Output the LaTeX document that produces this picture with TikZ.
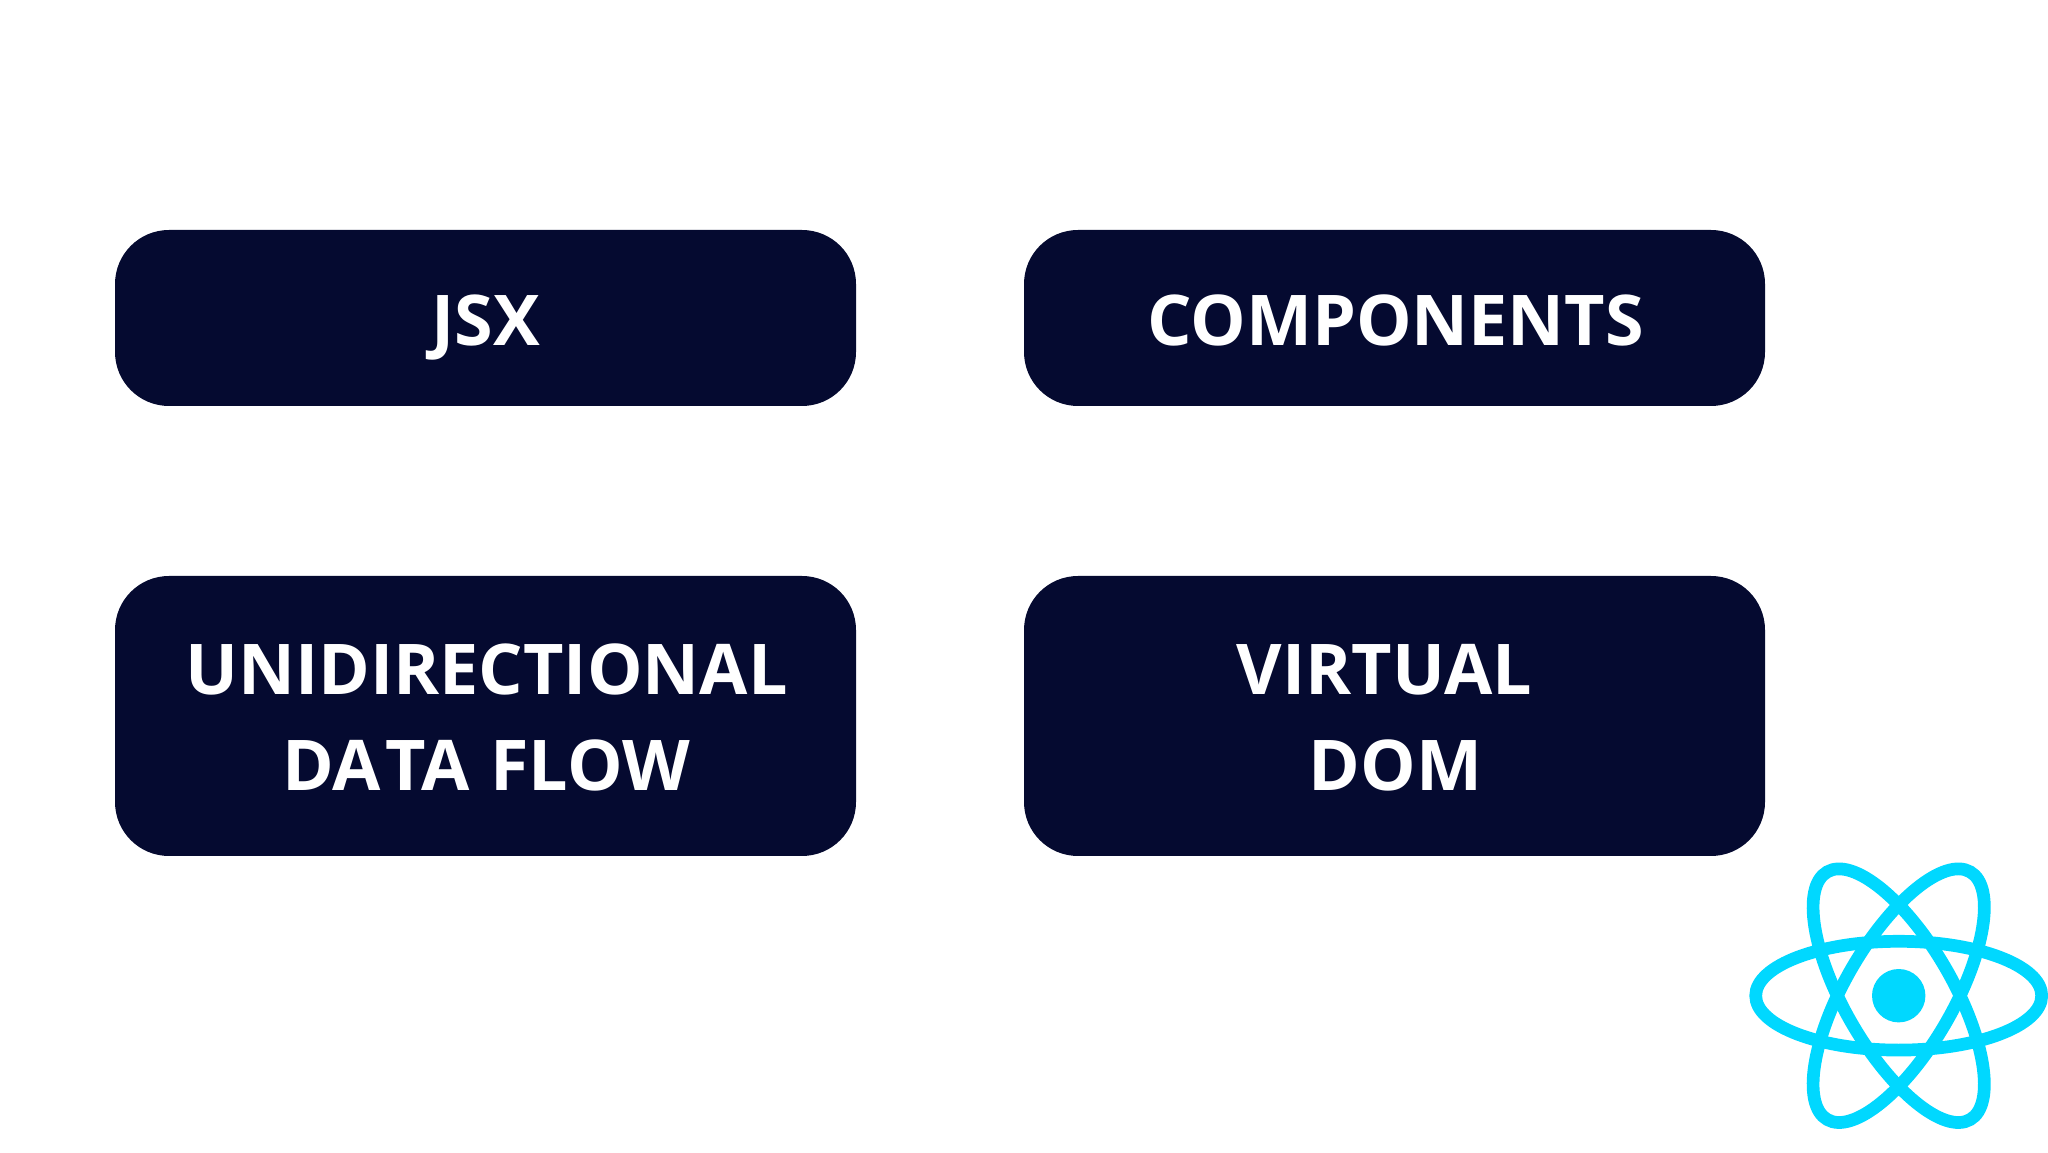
\documentclass[tikz,border=0pt]{standalone}
\usepackage{fontspec}
\setmainfont{Open Sans}[Kerning=Off]
\definecolor{boxnavy}{HTML}{050A30}
\definecolor{reactcyan}{HTML}{00D8FF}
\tikzset{
  x=1pt,y=1pt,
  cardbox/.style={fill=boxnavy,draw=none,rounded corners=54pt,inner sep=0pt,outer sep=0pt,minimum width=741pt},
  cardtext/.style={text=white,font=\fontsize{70}{96}\selectfont\bfseries,anchor=base,inner sep=0pt,align=center},
  orbit/.style={draw=reactcyan,line width=12.7pt,fill=none}
}
\begin{document}
\begin{tikzpicture}
\useasboundingbox (0,0) rectangle (2048,1152);
\fill[white] (0,0) rectangle (2048,1152);
% boxes
\node[cardbox,minimum height=176pt] (b1) at (485.5,834) {};
\node[cardbox,minimum height=176pt] (b2) at (1394.5,834) {};
\node[cardbox,minimum height=280pt] (b3) at (485.5,436) {};
\node[cardbox,minimum height=280pt] (b4) at (1394.5,436) {};
% labels
\node[cardtext] (t1) at (486,806) {JSX};
\node[cardtext] (t2) at (1395.5,806) {COMPONENTS};
\node[cardtext] (t3a) at (486.5,457) {UNIDIRECTIONAL};
\node[cardtext] (t3b) at (486,361) {DA\kern4.5pt TA\kern3pt\ FLOW};
\node[cardtext] (t4a) at (1384.5,457) {VIRTUAL};
\node[cardtext] (t4b) at (1395.5,361) {DOM};
% React logo
\coordinate (c) at (1898.7,156.3);
\draw[orbit] (c) ellipse [x radius=143,y radius=54.4];
\draw[orbit,rotate around={60:(c)}] (c) ellipse [x radius=143,y radius=54.4];
\draw[orbit,rotate around={-60:(c)}] (c) ellipse [x radius=143,y radius=54.4];
\fill[reactcyan] (c) circle [radius=26.7];
\end{tikzpicture}
\end{document}
